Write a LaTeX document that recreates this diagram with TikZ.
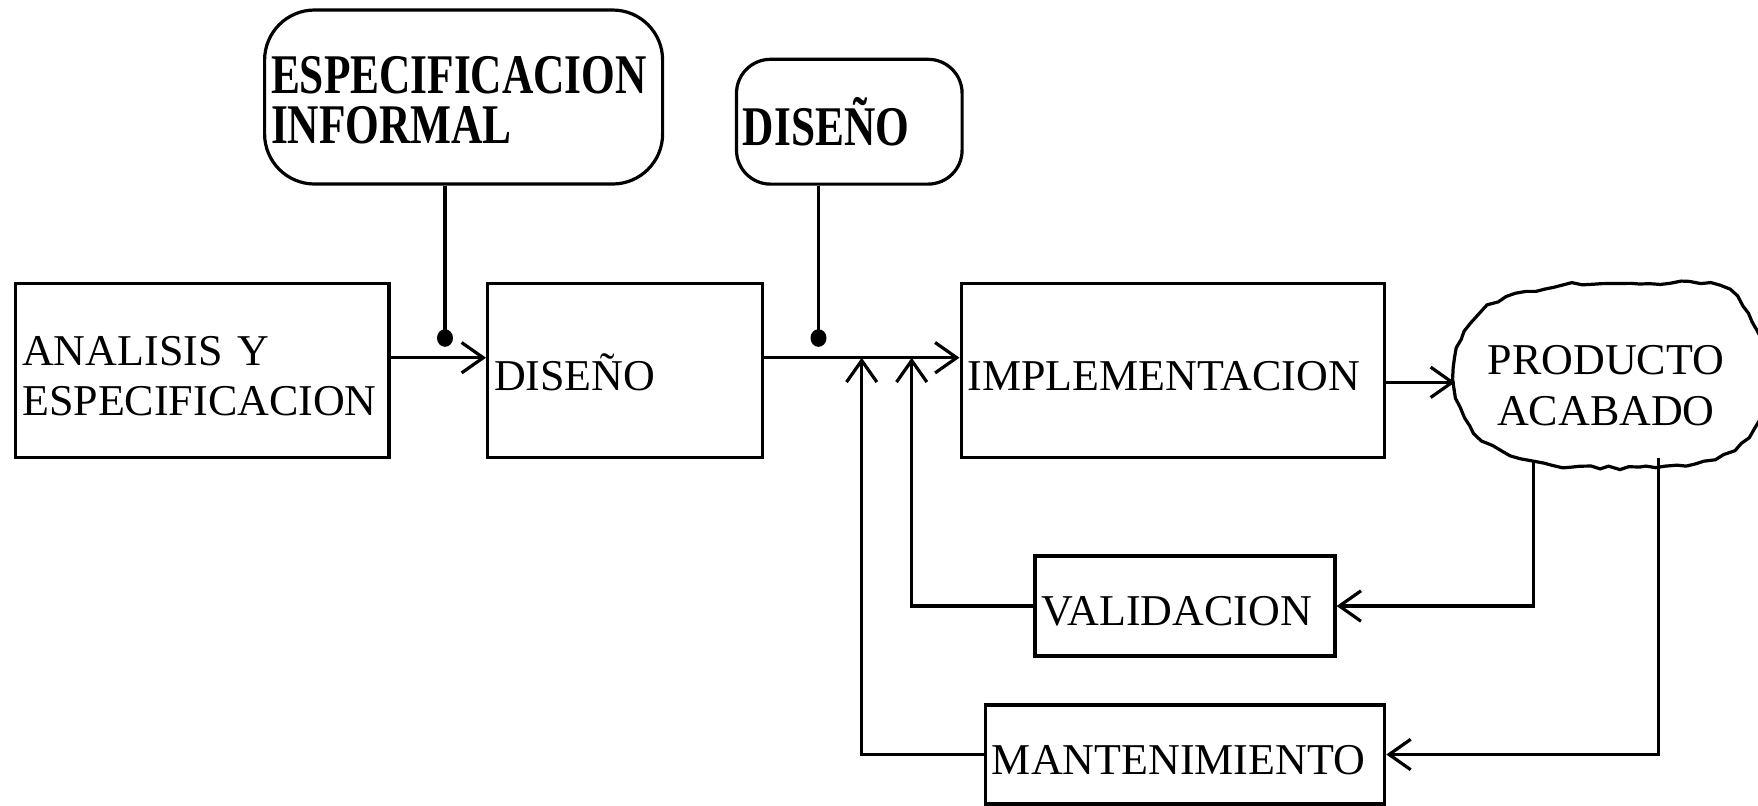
\documentclass[tikz,border=0pt]{standalone}
\usepackage{fontspec}
\setmainfont{Liberation Serif}
\newfontfamily\boldcond[FakeStretch=0.774]{Liberation Serif Bold}
\usepackage{tikz}
\usetikzlibrary{arrows.meta}
\usetikzlibrary{decorations.pathmorphing}

\begin{document}
\begin{tikzpicture}[x=0.25pt,y=0.25pt,yscale=-1,xscale=1,line width=0.8pt,
  blk/.style={draw,rectangle,align=left,inner xsep=1.6pt,inner ysep=0pt,font=\fontsize{11}{12.6}\selectfont,execute at begin node=\rule{0pt}{10pt}},
  rblk/.style={draw,rectangle,align=left,inner xsep=1.6pt,inner ysep=0pt,font=\boldcond\fontsize{14}{12.6}\selectfont,execute at begin node=\rule{0pt}{11pt}},
  flow/.style={-{Straight Barb[length=5.4pt,width=7.6pt]}},
  cloudline/.style={decorate,decoration={random steps,segment length=2.5pt,amplitude=0.45pt}}]
\useasboundingbox (0,0) rectangle (1758,805);
\clip (0,0) rectangle (1758,805);
\pgfmathsetseed{7}

%Shape: Rectangle [ana]
\node[blk,text width=90.1pt,minimum height=43.5pt] (ana) at (202.4,370.6) {ANALISIS Y\\ESPECIFICACION};
%Shape: Rectangle [dis]
\node[blk,text width=65.5pt,minimum height=43.5pt] (dis) at (625,370.6) {DISEÑO};
%Shape: Rectangle [imp]
\node[blk,text width=102.7pt,minimum height=43.5pt] (imp) at (1172.9,370.6) {IMPLEMENTACION};
%Shape: Rectangle [val]
\node[blk,text width=71.8pt,minimum height=25pt] (val) at (1185,606) {VALIDACION};
%Shape: Rectangle [man]
\node[blk,text width=96.6pt,minimum height=24.75pt] (man) at (1185.1,754.5) {MANTENIMIENTO};
%Shape: Rounded Rectangle [espinf]
\node[rblk,rounded corners=12.5pt,text width=96.3pt,minimum height=43.5pt] (espinf) at (463.6,97) {ESPECIFICACION\\INFORMAL};
%Shape: Rounded Rectangle [disinf]
\node[rblk,rounded corners=8.5pt,text width=53.2pt,minimum height=31.2pt] (disinf) at (849.3,121.7) {DISEÑO};

%Shape: Cloud [prod]
\draw[cloudline] plot[smooth cycle,tension=0.55] coordinates {(1563,285) (1640,284) (1720,286) (1752,322) (1770,380) (1754,428) (1715,459) (1640,467) (1572,467) (1530,460) (1482,440) (1456,398) (1457,348) (1488,306)};
% Text Node
\node[align=center,inner sep=0pt,font=\fontsize{11}{12.6}\selectfont] (prod) at (1606,385.6) {PRODUCTO\\ACABADO};

% Points on the lines
\coordinate (lin) at (0,357.7);
\coordinate (prodw) at (1455,382.3);
\coordinate (d1) at (445,338);
\coordinate (d2) at (818.5,338);
\coordinate (fbv) at (911.7,606);
\coordinate (fbm) at (861.7,754.5);
\coordinate (pv) at (1533.5,460);
\coordinate (pm) at (1658.3,458);

%Straight Lines
\draw[flow] (ana.east |- lin) -- (dis.west |- lin);
\draw[flow] (dis.east |- lin) -- (imp.west |- lin);
\draw[flow] (imp.east |- prodw) -- (prodw);
%Straight Lines
\draw (espinf.south -| d1) -- (d1);
\fill (d1) ellipse [x radius=2pt,y radius=2.2pt];
\draw (disinf.south -| d2) -- (d2);
\fill (d2) ellipse [x radius=2pt,y radius=2.2pt];
%Straight Lines
\draw[flow] (val.west) -- (fbv) -- (fbv |- lin);
\draw[flow] (man.west) -- (fbm) -- (fbm |- lin);
\draw[flow] (pv) -- (pv |- val.east) -- (val.east);
\draw[flow] (pm) -- (pm |- man.east) -- (man.east);

\end{tikzpicture}
\end{document}
